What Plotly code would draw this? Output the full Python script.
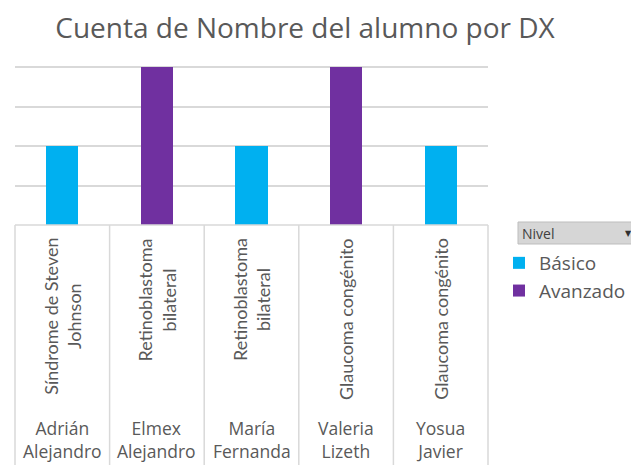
import plotly.graph_objects as go

alumnos = ["Adrián<br>Alejandro", "Elmex<br>Alejandro", "María<br>Fernanda", "Valeria<br>Lizeth", "Yosua<br>Javier"]
dx = ["Síndrome de Steven<br>Johnson", "Retinoblastoma<br>bilateral", "Retinoblastoma<br>bilateral",
      "Glaucoma congénito", "Glaucoma congénito"]
basico = [1, 0, 1, 0, 1]
avanzado = [0, 2, 0, 2, 0]

# page body has an 8px margin, so the figure is drawn 8px smaller
OFF = 8
W, H = 639 - OFF, 465 - OFF
left, right, top, base = 15, 488, 65, 225   # reference pixels
ph = base - top
pw = right - left

def py(p):
    # reference pixel row -> paper y
    return (base - p) / ph

def px(p):
    return (p - left) / pw

txt = "#595959"
font = "Lato"
wide = "Open Sans"

fig = go.Figure()
fig.add_trace(go.Bar(x=list(range(len(alumnos))), y=basico, name="Básico", legendgroup="a",
                     marker=dict(color="#00B0F0", line=dict(width=0)), width=0.34))
fig.add_trace(go.Bar(x=list(range(len(alumnos))), y=avanzado, name="Avanzado", legendgroup="b",
                     marker=dict(color="#7030A0", line=dict(width=0)), width=0.34))

shapes = []
n = len(alumnos)
# category box
shapes.append(dict(type="line", xref="paper", yref="paper", x0=0, x1=1, y0=0, y1=0,
                   line=dict(color="#d9d9d9", width=1.5)))
for i in range(n + 1):
    shapes.append(dict(type="line", xref="paper", yref="paper", x0=i / n, x1=i / n,
                       y0=0, y1=py(470), line=dict(color="#d9d9d9", width=1.5)))
# left edge remnant
shapes.append(dict(type="line", xref="paper", yref="paper", x0=px(7), x1=px(7),
                   y0=py(163), y1=py(315), line=dict(color="#c8c8c8", width=1.5)))
shapes.append(dict(type="line", xref="paper", yref="paper", x0=px(7), x1=px(7),
                   y0=py(163), y1=py(188), line=dict(color="#7fa9c9", width=1.5)))
# "Nivel" filter button
shapes.append(dict(type="rect", xref="paper", yref="paper", x0=px(518), x1=px(637),
                   y0=py(222), y1=py(244), fillcolor="#d6d6d6", line=dict(color="#bdbdbd", width=1)))

annotations = []
for i in range(n):
    annotations.append(dict(x=i, xref="x", y=py(236), yref="paper", text=dx[i], textangle=-90,
                            xanchor="center", yanchor="top", showarrow=False, align="center",
                            font=dict(family=font, size=18, color=txt)))
    annotations.append(dict(x=i, xref="x", y=py(414), yref="paper", text=alumnos[i],
                            xanchor="center", yanchor="top", showarrow=False, align="center",
                            font=dict(family=wide, size=17.5, color=txt)))
annotations.append(dict(x=px(520), xref="paper", y=py(233), yref="paper", text="Nivel",
                        xanchor="left", yanchor="middle", showarrow=False,
                        font=dict(family=wide, size=14, color="#404040")))
annotations.append(dict(x=px(634), xref="paper", y=py(233), yref="paper", text="▼",
                        xanchor="right", yanchor="middle", showarrow=False,
                        font=dict(family="DejaVu Sans", size=8, color="#303030")))

fig.update_layout(
    width=W, height=H,
    margin=dict(l=left - OFF, r=W - (right - OFF), t=top - OFF, b=H - (base - OFF), pad=0,
                autoexpand=False),
    paper_bgcolor="white", plot_bgcolor="white",
    barmode="stack",
    showlegend=True,
    title=dict(text="Cuenta de Nombre del alumno por DX", x=(305 - OFF) / W, xanchor="center",
               y=1 - (28 - OFF) / H, yanchor="middle", font=dict(family=wide, size=28, color=txt)),
    xaxis=dict(range=[-0.5, n - 0.5], showticklabels=False, showgrid=False, zeroline=False,
               ticks="", showline=False),
    yaxis=dict(range=[0, 2.03], tickvals=[0.5, 1, 1.5, 2], showticklabels=False, showgrid=True,
               gridcolor="#d9d9d9", gridwidth=1.5, zeroline=False, ticks="", showline=False),
    legend=dict(x=px(499), xanchor="left", y=py(244), yanchor="top", traceorder="grouped",
                tracegroupgap=0, itemwidth=30, font=dict(family=wide, size=19, color=txt),
                bgcolor="rgba(0,0,0,0)"),
    shapes=shapes,
    annotations=annotations,
)

fig.write_html("out.html")
